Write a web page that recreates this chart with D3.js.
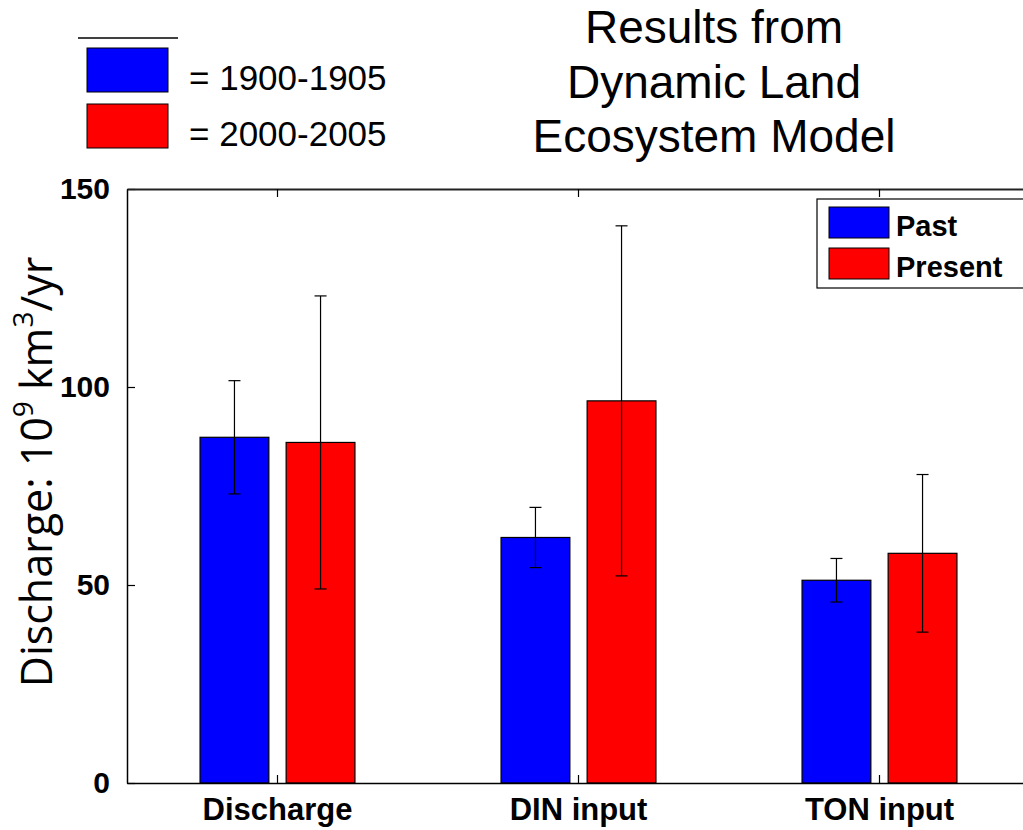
<!DOCTYPE html>
<html><head><meta charset="utf-8">
<script src="https://cdn.jsdelivr.net/npm/d3@7"></script>
<style>body{margin:0;background:#fff;} svg{display:block;}</style>
</head><body>
<svg id="chart" width="1023" height="830"></svg>
<script>
const categories = ["Discharge", "DIN input", "TON input"];
const seriesNames = ["Past", "Present"];
const pastValues = [87.3, 62.0, 51.2];
const pastErrors = [14.3, 7.6, 5.5];
const presentValues = [86.0, 96.5, 58.0];
const presentErrors = [37.0, 44.2, 19.9];
const yTicks = [0, 50, 100, 150];
const colors = ["#0000ff", "#ff0000"];
const periodLabels = ["= 1900-1905", "= 2000-2005"];
const titleLines = ["Results from", "Dynamic Land", "Ecosystem Model"];

(function () {
const svg = d3.select("#chart");
const pLeft = 127, pRight = 1030, pTop = 189, pBottom = 783;

const x = d3.scaleBand().domain(categories).range([pLeft, pRight]).paddingInner(0).paddingOuter(0);
const y = d3.scaleLinear().domain([0, 150]).range([pBottom, pTop]);
const bw = x.bandwidth();
const off = d3.scaleOrdinal().domain(seriesNames).range([-0.143 * bw, 0.143 * bw]);
const barW = 0.2286 * bw;

const series = [
  {name: "Past", values: pastValues, errors: pastErrors, color: colors[0]},
  {name: "Present", values: presentValues, errors: presentErrors, color: colors[1]}
];
const data = [];
series.forEach(s => categories.forEach((c, i) => data.push({cat: c, name: s.name, v: s.values[i], e: s.errors[i], color: s.color})));
const cx = d => x(d.cat) + bw / 2 + off(d.name);

// bars
svg.append("g").selectAll("rect").data(data).join("rect")
  .attr("x", d => cx(d) - barW / 2).attr("y", d => y(d.v))
  .attr("width", barW).attr("height", d => y(0) - y(d.v))
  .attr("fill", d => d.color).attr("stroke", "#000").attr("stroke-width", 1.2);

// error bars
const eg = svg.append("g").attr("stroke", "#000").attr("stroke-width", 1.2);
eg.selectAll("line.v").data(data).join("line").attr("class", "v")
  .attr("x1", cx).attr("x2", cx).attr("y1", d => y(d.v + d.e)).attr("y2", d => y(d.v - d.e));
eg.selectAll("line.t").data(data).join("line").attr("class", "t")
  .attr("x1", d => cx(d) - 6).attr("x2", d => cx(d) + 6).attr("y1", d => y(d.v + d.e)).attr("y2", d => y(d.v + d.e));
eg.selectAll("line.b").data(data).join("line").attr("class", "b")
  .attr("x1", d => cx(d) - 6).attr("x2", d => cx(d) + 6).attr("y1", d => y(d.v - d.e)).attr("y2", d => y(d.v - d.e));

// axes
const yAxis = d3.axisLeft(y).tickValues(yTicks).tickSizeInner(-8).tickSizeOuter(0).tickPadding(17);
const ga = svg.append("g").attr("transform", `translate(${pLeft},0)`).call(yAxis);
ga.select(".domain").attr("stroke", "#000").attr("stroke-width", 1.5);
ga.selectAll(".tick line").attr("stroke", "#000").attr("stroke-width", 1.2);
ga.selectAll(".tick text").attr("font-family", "'Liberation Sans', Arial, sans-serif")
  .attr("font-weight", "bold").attr("font-size", 30).attr("fill", "#000");

const xAxis = d3.axisBottom(x).tickSizeInner(-8).tickSizeOuter(0).tickPadding(15);
const gx = svg.append("g").attr("transform", `translate(0,${pBottom})`).call(xAxis);
gx.select(".domain").attr("stroke", "#000").attr("stroke-width", 1.5);
gx.selectAll(".tick line").attr("stroke", "#000").attr("stroke-width", 1.2);
gx.selectAll(".tick text").attr("font-family", "'Liberation Sans', Arial, sans-serif")
  .attr("font-weight", "bold").attr("font-size", 31).attr("fill", "#000");

const xTop = d3.axisTop(x).tickSizeInner(-8).tickSizeOuter(0).tickFormat("");
const gt = svg.append("g").attr("transform", `translate(0,${pTop})`).call(xTop);
gt.select(".domain").attr("stroke", "#222").attr("stroke-width", 2);
gt.selectAll(".tick line").attr("stroke", "#000").attr("stroke-width", 1.2);

// y label
const yl = svg.append("text")
  .attr("transform", `translate(52,472) rotate(-90)`)
  .attr("text-anchor", "middle")
  .attr("font-family", "'Open Sans', sans-serif").attr("font-size", 43).attr("fill", "#000");
yl.append("tspan").text("Discharge: 10");
yl.append("tspan").attr("baseline-shift", "super").attr("font-size", 28).text("9");
yl.append("tspan").text(" km");
yl.append("tspan").attr("baseline-shift", "super").attr("font-size", 28).text("3");
yl.append("tspan").text("/yr");

// title
svg.append("g").selectAll("text").data(titleLines).join("text")
  .attr("x", 714).attr("y", (d, i) => 43 + i * 54.5)
  .attr("text-anchor", "middle")
  .attr("font-family", "'Liberation Sans', Arial, sans-serif").attr("font-size", 46).attr("fill", "#000")
  .text(d => d);

// top-left legend
svg.append("line").attr("x1", 78).attr("x2", 178).attr("y1", 38).attr("y2", 38).attr("stroke", "#000").attr("stroke-width", 1.3);
const tl = svg.append("g").selectAll("g").data(periodLabels).join("g")
  .attr("transform", (d, i) => `translate(0,${i * 56})`);
tl.append("rect").attr("x", 87).attr("y", 48).attr("width", 81).attr("height", 44)
  .attr("fill", (d, i) => colors[i]).attr("stroke", "#000").attr("stroke-width", 1);
tl.append("text").attr("x", 189).attr("y", 90)
  .attr("font-family", "'Liberation Sans', Arial, sans-serif").attr("font-size", 35).attr("fill", "#000")
  .text(d => d);

// plot legend
svg.append("rect").attr("x", 817).attr("y", 199).attr("width", 220).attr("height", 89)
  .attr("fill", "#fff").attr("stroke", "#000").attr("stroke-width", 1.2);
const lg = svg.append("g").selectAll("g").data(seriesNames).join("g")
  .attr("transform", (d, i) => `translate(0,${i * 41})`);
lg.append("rect").attr("x", 829).attr("y", 207).attr("width", 60).attr("height", 31)
  .attr("fill", (d, i) => colors[i]).attr("stroke", "#000").attr("stroke-width", 1);
lg.append("text").attr("x", 896).attr("y", 236)
  .attr("font-family", "'Liberation Sans', Arial, sans-serif").attr("font-weight", "bold").attr("font-size", 29).attr("fill", "#000")
  .text(d => d);
})();
</script>
</body></html>
